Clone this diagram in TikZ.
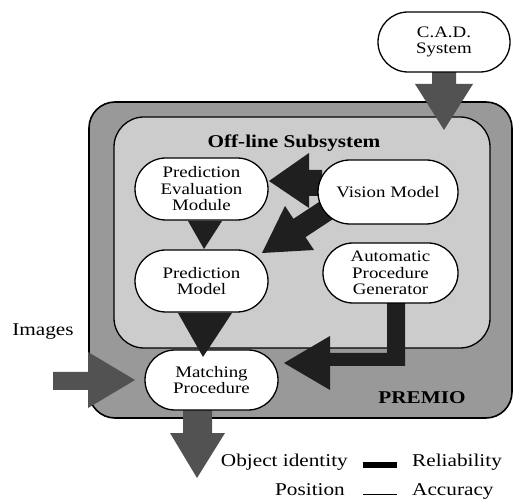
\documentclass[tikz,border=0pt]{standalone}
\usepackage{fontspec}
\setmainfont[FakeStretch=1.18]{Liberation Serif}
\usetikzlibrary{shapes.misc}
\definecolor{outerfill}{gray}{0.6}
\definecolor{innerfill}{gray}{0.8}
\definecolor{darkarrow}{gray}{0.12}
\definecolor{medarrow}{gray}{0.32}
\begin{document}
\begin{tikzpicture}[x=1pt,y=-1pt,
  blk/.style={draw=black, line width=1.3pt, fill=white, rounded rectangle,
    align=center, inner sep=0pt, font=\fontsize{16}{16.5}\selectfont},
  ttl/.style={font=\fontsize{18}{20}\selectfont\bfseries, inner sep=0pt},
  lbl/.style={font=\fontsize{18}{20}\selectfont, inner sep=0pt},
  darr/.style={fill=darkarrow},
  marr/.style={fill=medarrow}]
\useasboundingbox (0,0) rectangle (514,502);

% containers
\draw[line width=1.6pt, fill=outerfill, rounded corners=26pt] (89,102) rectangle (512,418);
\draw[line width=1.3pt, fill=innerfill, rounded corners=30pt] (114,117) rectangle (490,348);
\node[ttl] (offline) at (294,143) {Off-line Subsystem};
\node[ttl] (premio) at (422,398) {PREMIO};

% arrows under nodes
\fill[marr] (432,70) -- (456,70) -- (456,84) -- (473,84) -- (444,130) -- (415,84) -- (432,84) -- cycle;
\fill[darr] (322,170) -- (309,170) -- (309,153) -- (269,181) -- (309,208) -- (309,196) -- (322,196) -- cycle;
\fill[darr] (262,253) -- (285,206) -- (293.5,218.8) -- (331.1,194) -- (343.1,212.4) -- (305.5,237.2) -- (314,250) -- cycle;
\fill[darr] (387,300) -- (405,300) -- (405,366) -- (330,366) -- (330,390) -- (284,363) -- (330,336) -- (330,353) -- (387,353) -- cycle;
\fill[marr] (53,372) -- (88,372) -- (88,352) -- (135,380) -- (88,408) -- (88,390) -- (53,390) -- cycle;
\fill[marr] (183,405) -- (212,405) -- (212,433) -- (225,433) -- (197,478) -- (170,433) -- (183,433) -- cycle;

% nodes
\node[blk, minimum width=132pt, minimum height=60pt] (cad) at (444,42) {C.A.D.\\System};
\node[blk, minimum width=133pt, minimum height=62pt] (pem) at (201.5,189) {Prediction\\Evaluation\\Module};
\node[blk, minimum width=140pt, minimum height=64pt] (vm) at (388,192) {Vision Model};
\node[blk, minimum width=133pt, minimum height=62pt] (pm) at (201.5,281) {Prediction\\Model};
\node[blk, minimum width=135pt, minimum height=60pt] (apg) at (390.5,273) {Automatic\\Procedure\\Generator};
\node[blk, minimum width=133pt, minimum height=60pt] (mp) at (211.5,380) {Matching\\Procedure};

% arrows over nodes
\fill[darr] (188,221) -- (222,221) -- (204,249) -- cycle;
\fill[darr] (178,313) -- (232,313) -- (203,357) -- cycle;

% labels and legend
\node[lbl] (images) at (43,332) {Images};
\node[lbl, anchor=base east] (objid) at (348,466) {Object identity};
\node[lbl, anchor=base west] (rel) at (412,466) {Reliability};
\node[lbl, anchor=base east] (pos) at (345,495) {Position};
\node[lbl, anchor=base west] (acc) at (412,495) {Accuracy};
\fill (363,462) rectangle (397,468);
\draw[line width=0.8pt] (363,494) -- (397,494);
\end{tikzpicture}
\end{document}
